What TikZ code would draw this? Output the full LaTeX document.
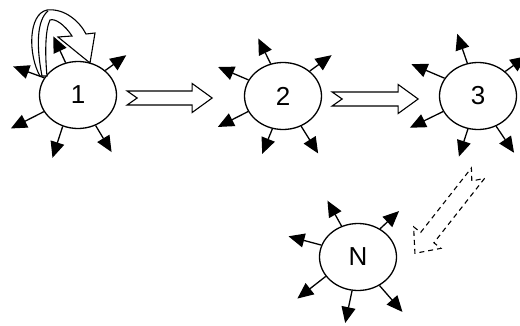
\documentclass[tikz,border=0pt]{standalone}
\usepackage{fontspec}
\setmainfont{Liberation Sans}
\usetikzlibrary{shapes.geometric,arrows.meta,calc}

\tikzset{
    state/.style={ellipse,draw,line width=1.3pt,fill=white,inner sep=0pt,
        minimum width=77pt,minimum height=67pt,font=\fontsize{26}{26}\selectfont},
    ray/.style={line width=1.3pt,-{Triangle[length=16pt,width=14pt]}},
    pics/blockarrow/.style={code={
        \draw[line width=1.1pt,fill=white,pic actions] (0,7) -- ({#1-20},7) -- ({#1-20},14.5)
            -- (#1,0) -- ({#1-20},-14.5) -- ({#1-20},-7) -- (0,-7) -- (10,0) -- cycle;
    }},
}

\begin{document}
\begin{tikzpicture}[x=1pt,y=1pt]
    \useasboundingbox (0,0) rectangle (520,325);
    \clip (0,0) rectangle (520,325);

    \node[state] (n1) at (78,230) {1};
    \node[state] (n2) at (283,229) {2};
    \node[state] (n3) at (478,229) {3};
    \node[state] (nN) at (358,68) {N};

    % loop on 1
    \begin{scope}[shift={(n1.center)},line width=1.1pt]
        \draw[fill=white] (-38,19) .. controls (-50,40) and (-50,81) .. (-31,85)
            .. controls (-13,87) and (2,73) .. (8,61) -- (17,62) -- (12,32) -- (-20,58) -- (-6,59)
            .. controls (-13,70) and (-23,77) .. (-28,75)
            .. controls (-33,65) and (-33,40) .. (-31,19) -- cycle;
        \draw (-36,19) .. controls (-42,50) and (-41,75) .. (-30,84);
    \end{scope}

    \foreach \a/\d/\l in {153/160/33,206/207/37,244/252/33,300/301/31,42/36/26,111/115/29}
        \draw[ray] (n1.\a) -- ++(\d:\l);
    \foreach \a/\d/\l in {111/116/28,155/157/33,204/207/34,252/248/27,301/302/32,43/36/27}
        \draw[ray] (n2.\a) -- ++(\d:\l);
    \foreach \a/\d/\l in {108/109/31,152/157/36,204/206/37,253/252/29,301/304/32,42/36/26}
        \draw[ray] (n3.\a) -- ++(\d:\l);
    \foreach \a/\d/\l in {118/119/29,162/165/34,52/43/26,211/218/36,260/258/33,307/311/35}
        \draw[ray] (nN.\a) -- ++(\d:\l);

    \pic at ($(n1.east)+(10,-3)$) {blockarrow=85};
    \pic at ($(n2.east)+(10,-3)$) {blockarrow=86};
    \pic[rotate=231.8,yscale=1.2,dash pattern=on 5pt off 4pt] at ($(n3.south)+(0,-43)$) {blockarrow=102};
\end{tikzpicture}
\end{document}
